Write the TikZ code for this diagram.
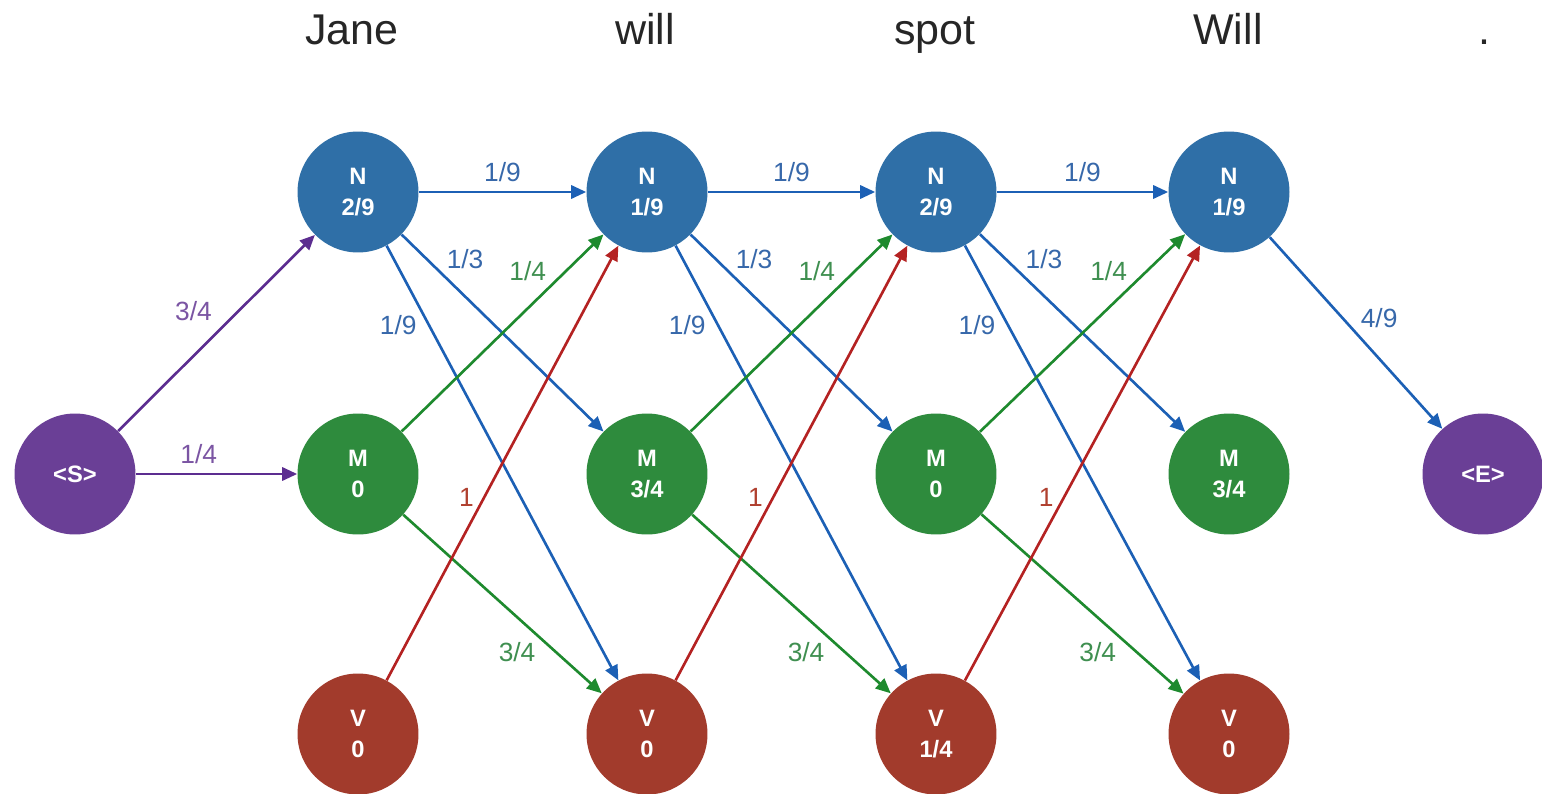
\documentclass[tikz,border=0pt]{standalone}
\usepackage{fontspec}
\setmainfont{Liberation Sans}
\usetikzlibrary{arrows.meta, positioning}
\definecolor{nfill}{HTML}{2F6FA7}
\definecolor{mfill}{HTML}{2E8B3D}
\definecolor{vfill}{HTML}{A23B2C}
\definecolor{sfill}{HTML}{6A3F96}
\definecolor{nline}{HTML}{1C60B5}
\definecolor{mline}{HTML}{1E8A2E}
\definecolor{vline}{HTML}{B42222}
\definecolor{sline}{HTML}{5C2D90}
\definecolor{nlbl}{HTML}{3768AA}
\definecolor{mlbl}{HTML}{3F8F50}
\definecolor{vlbl}{HTML}{B0402F}
\definecolor{slbl}{HTML}{7B55A3}

\begin{document}
\begin{tikzpicture}[x=0.02cm, y=-0.02cm,
  state/.style={circle, minimum size=2.42cm, inner sep=0pt, text=white,
    align=center, font=\fontsize{13.5}{17.5}\selectfont\bfseries},
  word/.style={anchor=base, font=\fontsize{24.5}{28}\selectfont, text=black!85},
  edge/.style={line width=1.5pt, -{Triangle[length=8.5pt, width=7.5pt]}},
  lbl/.style={inner sep=2pt, font=\fontsize{15}{17}\selectfont}]
  \useasboundingbox (0,0) rectangle (1542,794);

  % sentence along the top
  \foreach \w/\x [count=\i] in {Jane/352, will/645, spot/935, Will/1228, ./1484}
    \node[word] (w\i) at (\x,45) {\w};

  % start and end states
  \node[state, fill=sfill] (S) at (75,474) {<S>};
  \node[state, fill=sfill] (E) at (1483,474) {<E>};

  % trellis columns: N, M and V with their scores
  \foreach \c/\x/\pN/\pM/\pV in {1/358/{2/9}/0/0, 2/647/{1/9}/{3/4}/0,
                                 3/936/{2/9}/0/{1/4}, 4/1229/{1/9}/{3/4}/0} {
    \node[state, fill=nfill] (N\c) at (\x,192) {N\\\pN};
    \node[state, fill=mfill] (M\c) at (\x,474) {M\\\pM};
    \node[state, fill=vfill] (V\c) at (\x,734) {V\\\pV};
  }

  % transitions out of <S>
  \draw[edge, sline] (S) -- node[lbl, pos=0.52, above left=3pt, text=slbl] {3/4} (N1);
  \draw[edge, sline] (S) -- node[lbl, pos=0.39, above=3pt, text=slbl] {1/4} (M1);

  % transitions between columns
  \foreach \c [evaluate=\c as \d using int(\c+1)] in {1,2,3} {
    \draw[edge, nline] (N\c) -- node[lbl, midway, above=3pt, text=nlbl] {1/9} (N\d);
    \draw[edge, nline] (N\c) -- node[lbl, pos=0.2, above right, text=nlbl] {1/3} (M\d);
    \draw[edge, nline] (N\c) -- node[lbl, pos=0.15, below left, text=nlbl] {1/9} (V\d);
    \draw[edge, mline] (M\c) -- node[lbl, pos=0.74, above left, text=mlbl] {1/4} (N\d);
    \draw[edge, mline] (M\c) -- node[lbl, pos=0.69, below left, text=mlbl] {3/4} (V\d);
    \draw[edge, vline] (V\c) -- node[lbl, pos=0.42, left=3pt, text=vlbl] {1} (N\d);
  }

  % into <E>
  \draw[edge, nline] (N4) -- node[lbl, pos=0.5, above right, text=nlbl] {4/9} (E);
\end{tikzpicture}
\end{document}
